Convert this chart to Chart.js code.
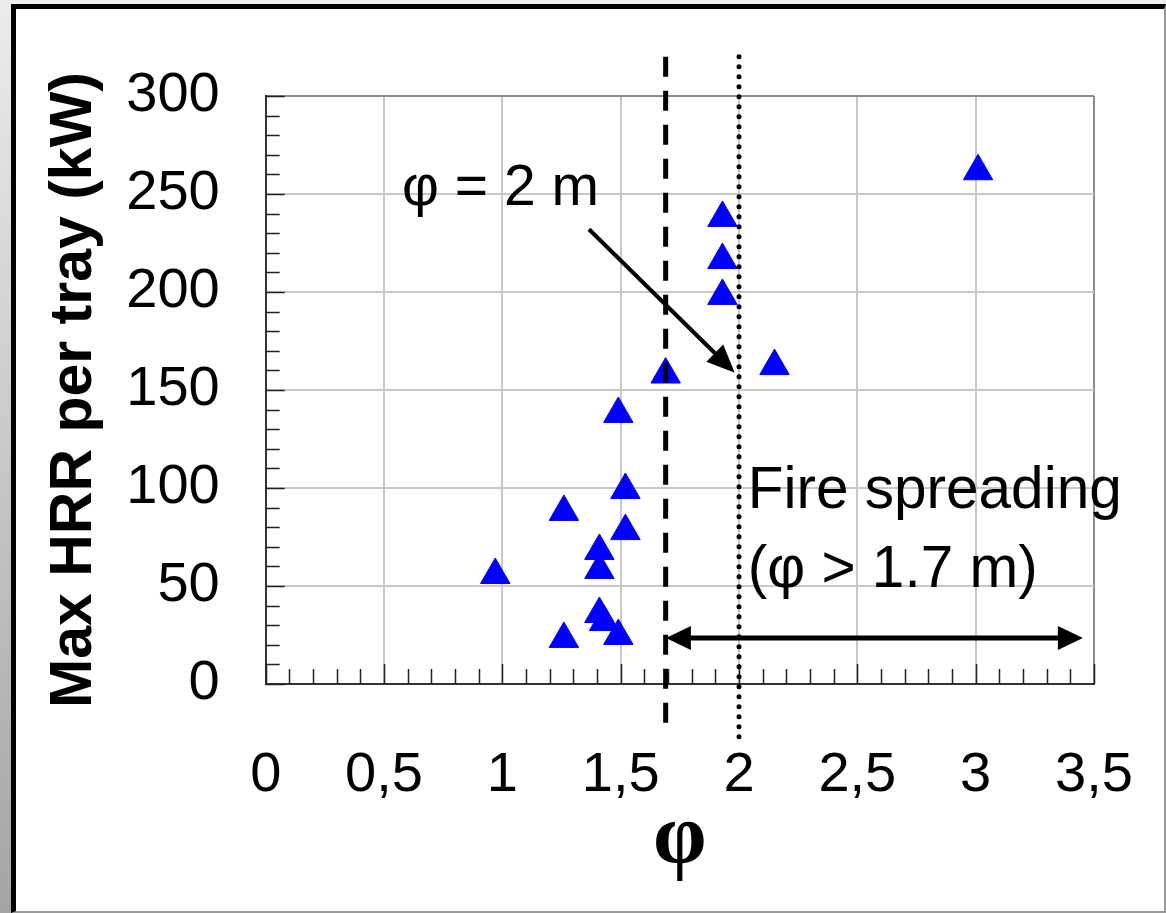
<!DOCTYPE html>
<html>
<head>
<meta charset="utf-8">
<script src="https://cdn.jsdelivr.net/npm/chart.js@4"></script>
<style>
  html, body { margin: 0; padding: 0; background: #f0f0f0; }
  #page { position: absolute; left: 0; top: 0; width: 1166px; height: 913px; overflow: hidden; }
  #strip { position: absolute; left: 0; top: 0; width: 11px; height: 913px;
           background: linear-gradient(#ececec, #a4a4a4); }
  #frame { position: absolute; left: 11px; top: 4px; width: 1155px; height: 909px; box-sizing: border-box;
           background: #fff; border-top: 5px solid #000; border-left: 5px solid #000;
           border-right: 2px solid #9a9a9a; border-bottom: 2px solid #9a9a9a; }
  #wrap { position: absolute; left: 0; top: 0; width: 1166px; height: 913px; }
</style>
</head>
<body>
<div id="page">
  <div id="strip"></div>
  <div id="frame"></div>
  <div id="wrap"><canvas id="myChart"></canvas></div>
</div>
<script>
// measured points: phi (m) vs max HRR per tray (kW)
const phiValues = [0.97, 1.26, 1.26, 1.41, 1.41, 1.41, 1.43, 1.49, 1.49, 1.52, 1.52, 1.69, 1.93, 1.93, 1.93, 2.15, 3.01];
const hrrValues = [55.6, 87.8, 23, 67.9, 58.2, 35.7, 31.6, 24.5, 137.8, 99, 78, 157.9, 237.8, 216.3, 198, 162.2, 261.6];

const xTickLabels = ['0', '0,5', '1', '1,5', '2', '2,5', '3', '3,5'];
const yTickLabels = ['0', '50', '100', '150', '200', '250', '300'];

// reference lines (phi = 1.7 m threshold, phi = 2 m)
const thresholdPhi = 1.69;
const twoMetrePhi = 2.0;

const ctx = document.getElementById('myChart');
const font = 'Liberation Sans, Arial, sans-serif';

// inside minor ticks + arrows + text labels
const extras = {
    id: 'extras',
    beforeDatasetsDraw(chart) {
        const c = chart.ctx;
        const xs = chart.scales.x, ys = chart.scales.y;
        const area = chart.chartArea;
        c.save();
        c.strokeStyle = '#222';
        c.lineWidth = 1.5;
        c.beginPath();
        for (let i = 0; i <= 35; i++) {
            const px = Math.round(xs.getPixelForValue(i / 10)) + 0.5;
            const len = i % 5 === 0 ? 20 : 15;
            c.moveTo(px, area.bottom);
            c.lineTo(px, area.bottom - len);
        }
        for (let j = 0; j <= 30; j++) {
            const py = Math.round(ys.getPixelForValue(j * 10)) + 0.5;
            const len = j % 5 === 0 ? 19 : 14;
            c.moveTo(area.left, py);
            c.lineTo(area.left + len, py);
        }
        c.stroke();
        c.restore();
    },
    afterDatasetsDraw(chart) {
        const c = chart.ctx;
        const xs = chart.scales.x, ys = chart.scales.y;
        const P = (x, y) => [xs.getPixelForValue(x), ys.getPixelForValue(y)];

        function head(c, x1, y1, x2, y2, len, half) {
            const a = Math.atan2(y2 - y1, x2 - x1);
            c.beginPath();
            c.moveTo(x2, y2);
            c.lineTo(x2 - len * Math.cos(a) + half * Math.sin(a), y2 - len * Math.sin(a) - half * Math.cos(a));
            c.lineTo(x2 - len * Math.cos(a) - half * Math.sin(a), y2 - len * Math.sin(a) + half * Math.cos(a));
            c.closePath();
            c.fill();
        }

        c.save();
        c.strokeStyle = '#000';
        c.fillStyle = '#000';
        c.lineWidth = 4;

        // arrow pointing to phi = 2 m
        let [ax, ay] = P(1.366, 232);
        let [bx, by] = P(1.982, 158.8);
        const ang = Math.atan2(by - ay, bx - ax);
        c.beginPath();
        c.moveTo(ax, ay);
        c.lineTo(bx - 16 * Math.cos(ang), by - 16 * Math.sin(ang));
        c.stroke();
        head(c, ax, ay, bx, by, 28, 12);

        // double arrow for spreading range
        let [lx, ly] = P(1.691, 23.5);
        let [rx] = P(3.453, 23.5);
        c.lineWidth = 5;
        c.beginPath();
        c.moveTo(lx + 20, ly);
        c.lineTo(rx - 20, ly);
        c.stroke();
        head(c, rx, ly, lx, ly, 25, 12);
        head(c, lx, ly, rx, ly, 25, 12);

        // text labels
        c.textAlign = 'left';
        c.textBaseline = 'alphabetic';
        c.font = '57px ' + font;
        let [tx, ty] = P(0.576, 244.4);
        c.fillText('\u03c6 = 2 m', tx, ty);
        c.font = '58.5px ' + font;
        [tx, ty] = P(2.037, 89.8);
        c.fillText('Fire spreading', tx, ty);
        [tx, ty] = P(2.037, 49.5);
        c.fillText('(\u03c6 > 1.7 m)', tx, ty);
        c.restore();
    }
};

new Chart(ctx, {
    data: {
        datasets: [
            {
                type: 'line',
                data: [{x: thresholdPhi, y: 320}, {x: thresholdPhi, y: -25}],
                borderColor: '#000',
                borderWidth: 5,
                borderDash: [20, 14],
                pointRadius: 0,
                clip: false,
                order: 0,
            },
            {
                type: 'line',
                data: [{x: twoMetrePhi, y: 320}, {x: twoMetrePhi, y: -29}],
                borderColor: '#000',
                borderWidth: 5,
                borderDash: [0, 10],
                borderCapStyle: 'round',
                pointRadius: 0,
                clip: false,
                order: 0,
            },
            {
                type: 'scatter',
                label: 'Max HRR per tray',
                data: phiValues.map((x, i) => ({x: x, y: hrrValues[i]})),
                pointStyle: 'triangle',
                pointRadius: 17,
                backgroundColor: '#0000ff',
                borderColor: '#0000ff',
                borderWidth: 1,
                order: 1,
            }
        ]
    },
    options: {
        responsive: true,
        maintainAspectRatio: false,
        animation: false,
        events: [],
        layout: { padding: { left: 0, top: 96, right: 72, bottom: 0 } },
        plugins: { legend: { display: false }, tooltip: { enabled: false } },
        scales: {
            x: {
                type: 'linear',
                min: 0,
                max: 3.5,
                afterFit: (scale) => {
                    scale.height = 229;
                    scale.paddingLeft = 0;
                    scale.paddingRight = 0;
                },
                ticks: {
                    stepSize: 0.5,
                    padding: 58,
                    color: '#000',
                    font: { family: font, size: 56 },
                    callback: (v, i) => xTickLabels[i],
                },
                grid: {
                    drawTicks: false,
                    lineWidth: 2,
                    color: (c) => (c.tick && c.tick.value === 3.5 ? '#8c8c8c' : '#c8c8c8'),
                },
                border: { color: '#333', width: 2 },
                title: {
                    display: true,
                    text: '\u03c6',
                    color: '#000',
                    font: { family: 'Liberation Serif, Times New Roman, serif', size: 86, weight: 'bold', lineHeight: 1 },
                    padding: { top: 0, bottom: 30 },
                },
            },
            y: {
                type: 'linear',
                min: 0,
                max: 300,
                afterFit: (scale) => {
                    scale.width = 265.7;
                    scale.paddingTop = 0;
                    scale.paddingBottom = 0;
                },
                ticks: {
                    stepSize: 50,
                    padding: 46,
                    color: '#000',
                    font: { family: font, size: 56 },
                    callback: (v, i) => yTickLabels[i],
                },
                grid: {
                    drawTicks: false,
                    lineWidth: 2,
                    color: (c) => (c.tick && c.tick.value === 300 ? '#8c8c8c' : '#c8c8c8'),
                },
                border: { color: '#333', width: 2 },
                title: {
                    display: true,
                    text: 'Max HRR per tray (kW)',
                    color: '#000',
                    font: { family: font, size: 59, weight: 'bold', lineHeight: 1 },
                    padding: { top: 45, bottom: 0 },
                },
            }
        }
    },
    plugins: [extras]
});
</script>
</body>
</html>
